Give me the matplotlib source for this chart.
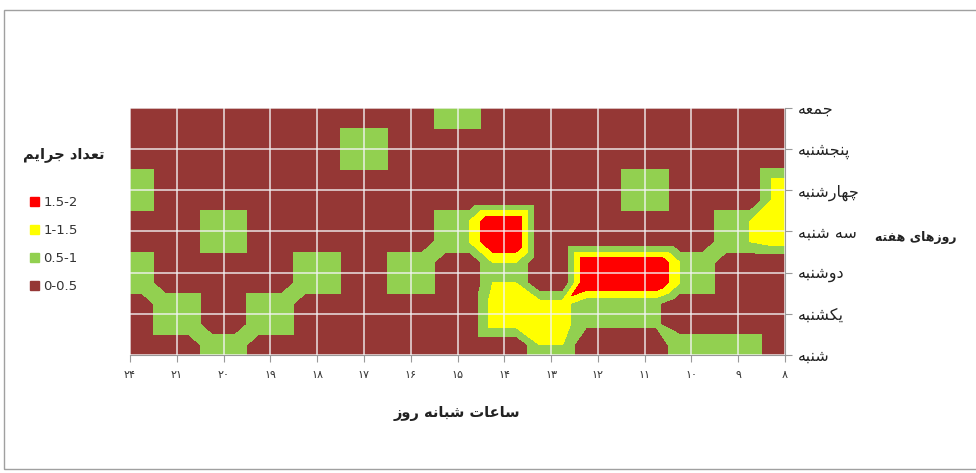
import numpy as np
import matplotlib
matplotlib.use("Agg")
import matplotlib.pyplot as plt
import matplotlib.tri as mtri
from matplotlib.patches import Patch, Rectangle

# hours of the day, left to right as on the chart
hours = [24, 21, 20, 19, 18, 17, 16, 15, 14, 13, 12, 11, 10, 9, 8]
# days of the week, bottom to top
days = ["شنبه", "یکشنبه", "دوشنبه", "سه شنبه", "چهارشنبه", "پنجشنبه", "جمعه"]

# number of crimes, one list per day (same order as hours)
sat = [0, 0, 1, 0, 0, 0, 0, 0, 0, 1, 0, 0, 1, 1, 0]
sun = [0, 1, 0, 1, 0, 0, 0, 0, 1.2, 1.2, 0.6, 0.6, 0, 0, 0]
mon = [1, 0, 0, 0, 1, 0, 1, 0, 1, 0, 2, 2, 1, 0, 0]
tue = [0, 0, 1, 0, 0, 0, 0, 1, 2, 0, 0, 0, 0, 1, 1.2]
wed = [1, 0, 0, 0, 0, 0, 0, 0, 0, 0, 0, 1, 0, 0, 1.1]
thu = [0, 0, 0, 0, 0, 1, 0, 0, 0, 0, 0, 0, 0, 0, 0]
fri = [0, 0, 0, 0, 0, 0, 0, 1, 0, 0, 0, 0, 0, 0, 0]

band_labels = ["0-0.5", "0.5-1", "1-1.5", "1.5-2"]
band_colors = ["#953735", "#92D050", "#FFFF00", "#FF0000"]


# matplotlib has no arabic shaping, so pick presentation forms by hand
# (isolated, final, initial, medial)
FORMS = {
    "ا": (0xFE8D, 0xFE8E),
    "ب": (0xFE8F, 0xFE90, 0xFE91, 0xFE92),
    "پ": (0xFB56, 0xFB57, 0xFB58, 0xFB59),
    "ت": (0xFE95, 0xFE96, 0xFE97, 0xFE98),
    "ج": (0xFE9D, 0xFE9E, 0xFE9F, 0xFEA0),
    "چ": (0xFB7A, 0xFB7B, 0xFB7C, 0xFB7D),
    "د": (0xFEA9, 0xFEAA),
    "ر": (0xFEAD, 0xFEAE),
    "ز": (0xFEAF, 0xFEB0),
    "س": (0xFEB1, 0xFEB2, 0xFEB3, 0xFEB4),
    "ش": (0xFEB5, 0xFEB6, 0xFEB7, 0xFEB8),
    "ع": (0xFEC9, 0xFECA, 0xFECB, 0xFECC),
    "ف": (0xFED1, 0xFED2, 0xFED3, 0xFED4),
    "ک": (0xFB8E, 0xFB8F, 0xFB90, 0xFB91),
    "م": (0xFEE1, 0xFEE2, 0xFEE3, 0xFEE4),
    "ن": (0xFEE5, 0xFEE6, 0xFEE7, 0xFEE8),
    "و": (0xFEED, 0xFEEE),
    "ه": (0xFEE9, 0xFEEA, 0xFEEB, 0xFEEC),
    "ی": (0xFBFC, 0xFBFD, 0xFBFE, 0xFBFF),
}


def fa(text):
    out = []
    for k, c in enumerate(text):
        if c not in FORMS:
            out.append(c)
            continue
        prev = text[k - 1] if k > 0 else ""
        nxt = text[k + 1] if k + 1 < len(text) else ""
        f = FORMS[c]
        jp = prev in FORMS and len(FORMS[prev]) == 4
        jn = len(f) == 4 and nxt in FORMS
        if jp and jn:
            out.append(chr(f[3]))
        elif jp:
            out.append(chr(f[1]))
        elif jn:
            out.append(chr(f[2]))
        else:
            out.append(chr(f[0]))
    return "".join(reversed(out))


def fa_num(n):
    return str(n).translate(str.maketrans("0123456789", "۰۱۲۳۴۵۶۷۸۹"))


if __name__ == "__main__":
    Z = np.array([sat, sun, mon, tue, wed, thu, fri], dtype=float)
    x = np.arange(len(hours))
    y = np.arange(len(days))

    # excel's top-view surface paints each value over its own quarter cells,
    # so put every value at the 4 corners of a quarter-cell block
    Zq = np.repeat(np.repeat(Z, 2, axis=0), 2, axis=1)
    xq = np.repeat(x, 2) + np.tile([-0.25, 0.25], len(x))
    yq = np.repeat(y, 2) + np.tile([-0.25, 0.25], len(y))
    X, Y = np.meshgrid(xq, yq)
    ny, nx = Zq.shape

    # split every quad along the diagonal with the larger values (like excel)
    tris = []
    for j in range(ny - 1):
        for i in range(nx - 1):
            p00 = j * nx + i
            p10, p01, p11 = p00 + 1, p00 + nx, p00 + nx + 1
            if Zq[j, i] + Zq[j + 1, i + 1] >= Zq[j, i + 1] + Zq[j + 1, i]:
                tris += [[p00, p10, p11], [p00, p11, p01]]
            else:
                tris += [[p00, p10, p01], [p10, p11, p01]]
    tri = mtri.Triangulation(X.ravel(), Y.ravel(), np.array(tris))

    fig = plt.figure(figsize=(9.76, 4.73), dpi=100)
    ax = fig.add_axes([130 / 976, 1 - 355 / 473, 655 / 976, 247 / 473])

    # tricontourf bands are [lo, hi), so let a value of exactly 1 or 2
    # fall in the band below it
    levels = [0, 0.5, 1.0001, 1.5, 2.0001]
    ax.tricontourf(tri, Zq.ravel(), levels=levels, colors=band_colors)

    ax.set_xlim(0, len(hours) - 1)
    ax.set_ylim(0, len(days) - 1)
    ax.set_xticks(x)
    ax.set_xticklabels([fa_num(h) for h in hours], fontsize=8, color="#333333")
    ax.set_yticks(y)
    ax.set_yticklabels([fa(d) for d in days], fontsize=11.5, color="#222222")
    ax.yaxis.tick_right()
    ax.tick_params(axis="both", length=5, color="#999999")
    ax.tick_params(axis="x", pad=6)
    ax.tick_params(axis="y", pad=4)
    ax.grid(True, color="#f4f4f4", lw=1.1, alpha=0.9)
    ax.set_axisbelow(False)
    for s in ["top", "left"]:
        ax.spines[s].set_visible(False)
    for s in ["bottom", "right"]:
        ax.spines[s].set_color("#999999")

    fig.text(457 / 976, 1 - 413 / 473, fa("ساعات شبانه روز"), ha="center",
             va="center", fontsize=10.5, fontweight="bold", color="#222222")
    fig.text(916 / 976, 1 - 237 / 473, fa("روزهای هفته"), ha="center",
             va="center", fontsize=9, fontweight="bold", color="#222222")
    fig.text(64 / 976, 1 - 155 / 473, fa("تعداد جرایم"), ha="center",
             va="center", fontsize=10.5, fontweight="bold", color="#222222")

    handles = [Patch(color=c) for c in band_colors[::-1]]
    fig.legend(handles, band_labels[::-1], loc="upper left",
               bbox_to_anchor=(18 / 976, 1 - 184 / 473), frameon=False,
               fontsize=9.5, handlelength=0.7, handleheight=0.7,
               handletextpad=0.3, labelspacing=1.15, labelcolor="#333333")

    fig.patches.append(Rectangle((4 / 976, 1 - 469 / 473), 980 / 976, 459 / 473,
                                 transform=fig.transFigure, fill=False,
                                 ec="#a0a0a0", lw=1))

    plt.savefig("out.png", dpi=100)
